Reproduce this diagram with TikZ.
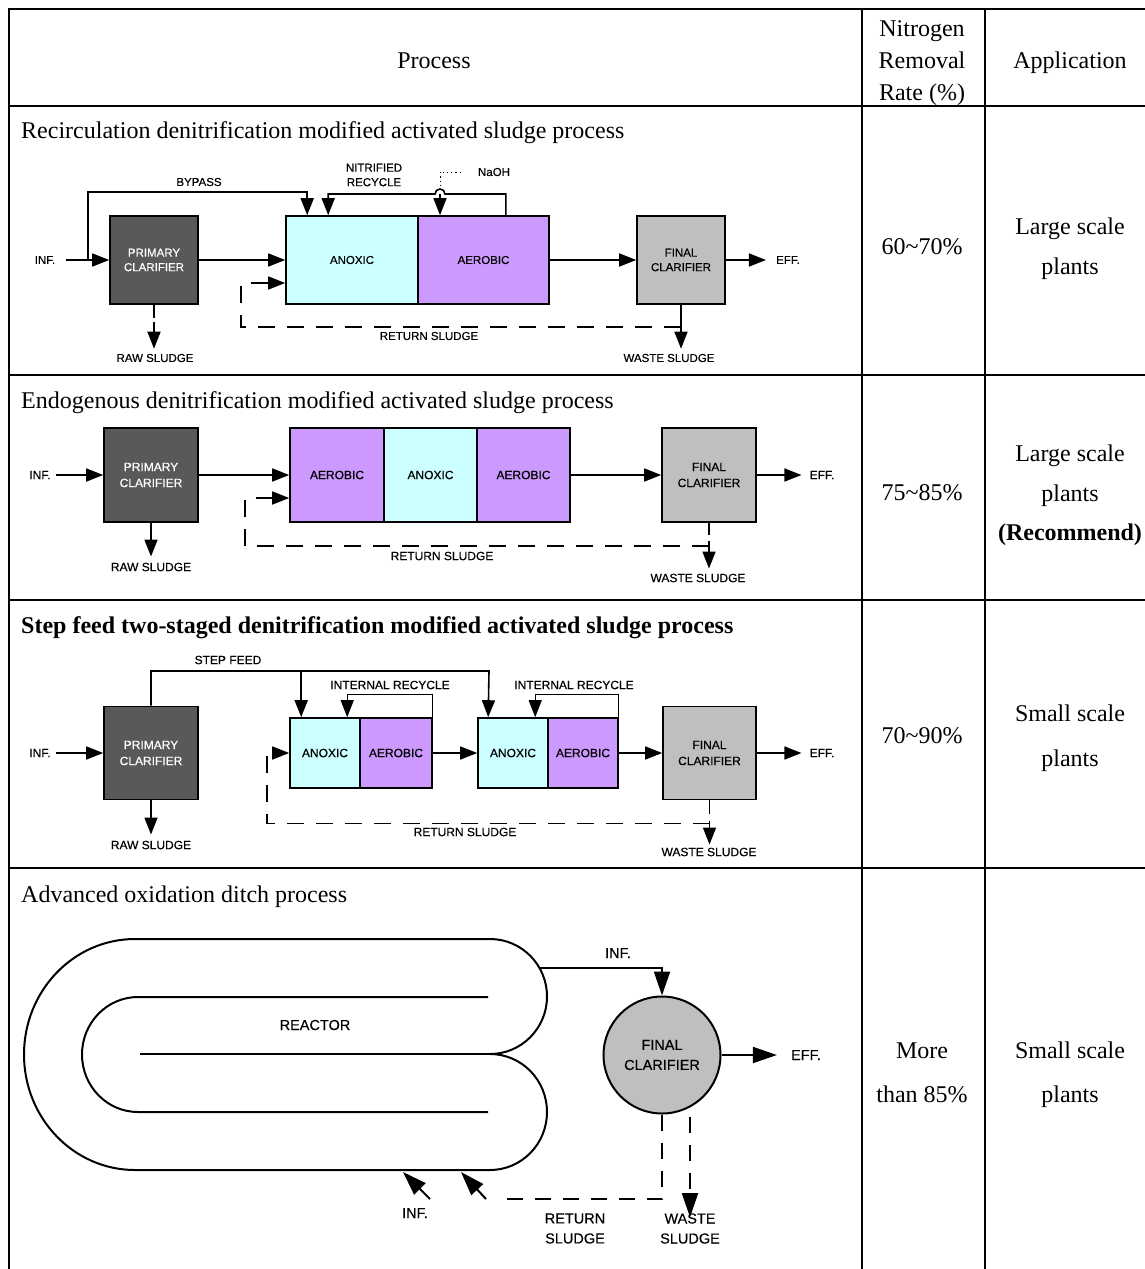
\documentclass[tikz,border=0pt]{standalone}
\usepackage{fontspec}
\setmainfont{Liberation Serif}
\newfontfamily\dgsans[FakeBold=0.35]{Liberation Sans}
\usetikzlibrary{arrows.meta,calc}
\definecolor{primfill}{HTML}{595959}
\definecolor{anoxfill}{HTML}{CCFFFF}
\definecolor{aerofill}{HTML}{CC99FF}
\definecolor{finfill}{HTML}{BFBFBF}
\newcommand\smallsans{\dgsans\fontsize{11.5}{14.5}\selectfont}
\newcommand\midsans{\dgsans\fontsize{12}{16}\selectfont}
\newcommand\bigsans{\dgsans\fontsize{14.5}{20}\selectfont}
\newcommand\cellfont{\fontsize{24}{32}\selectfont}
\begin{document}
\begin{tikzpicture}[x=1pt,y=-1pt,
  tbl/.style={line width=2.5pt, line cap=rect},
  celltxt/.style={inner sep=0pt, font=\cellfont, anchor=base},
  rowhead/.style={inner sep=0pt, font=\cellfont, anchor=base west},
  tank/.style={draw, line width=1.6pt, inner sep=0pt, align=center},
  lbl/.style={inner sep=0pt, align=center},
  flow/.style={line width=1.6pt, -{Triangle[length=17pt,width=13pt]}},
  pipe/.style={line width=1.6pt},
  dflow/.style={line width=1.6pt, dash pattern=on 17pt off 12pt, -{Triangle[length=17pt,width=13pt]}},
  dpipe/.style={line width=1.6pt, dash pattern=on 17pt off 12pt},
  recyc/.style={line width=1pt, -{Triangle[length=17pt,width=13pt]}},
  wall/.style={line width=2pt},
  bigflow/.style={line width=2pt, -{Triangle[length=24pt,width=16pt]}},
  bigdash/.style={line width=2pt, dash pattern=on 16pt off 12pt},
  bigdflow/.style={line width=2pt, dash pattern=on 16pt off 12pt, -{Triangle[length=24pt,width=16pt]}},
]
\useasboundingbox (0,0) rectangle (1145,1269);

% ---------- table grid ----------
\draw[tbl] (9,1269) -- (9,9) -- (1145,9);
\draw[tbl] (9,106) -- (1145,106);
\draw[tbl] (9,375) -- (1145,375);
\draw[tbl] (9,600) -- (1145,600);
\draw[tbl] (9,868) -- (1145,868);
\draw[tbl] (862,9) -- (862,1269);
\draw[tbl] (985,9) -- (985,1269);

% ---------- header ----------
\node[celltxt] (hproc) at (434,68) {Process};
\node[celltxt] (hrate1) at (922,36) {Nitrogen};
\node[celltxt] (hrate2) at (922,68) {Removal};
\node[celltxt] (hrate3) at (922,100) {Rate (\%)};
\node[celltxt] (happ) at (1070,68) {Application};

% ---------- row texts ----------
\node[rowhead] (t1) at (21,138) {Recirculation denitrification modified activated sludge process};
\node[celltxt] (t1r) at (922,254) {60\textasciitilde70\%};
\node[celltxt] (t1a) at (1070,234) {Large scale};
\node[celltxt] (t1b) at (1070,274) {plants};

\node[rowhead] (t2) at (21,408) {Endogenous denitrification modified activated sludge process};
\node[celltxt] (t2r) at (922,500) {75\textasciitilde85\%};
\node[celltxt] (t2a) at (1070,461) {Large scale};
\node[celltxt] (t2b) at (1070,501) {plants};
\node[celltxt] (t2c) at (1070,540) {\textbf{(Recommend)}};

\node[rowhead] (t3) at (21,633) {\textbf{Step feed two-staged denitrification modified activated sludge process}};
\node[celltxt] (t3r) at (922,743) {70\textasciitilde90\%};
\node[celltxt] (t3a) at (1070,721) {Small scale};
\node[celltxt] (t3b) at (1070,766) {plants};

\node[rowhead] (t4) at (21,902) {Advanced oxidation ditch process};
\node[celltxt] (t4r1) at (922,1058) {More};
\node[celltxt] (t4r2) at (922,1102) {than 85\%};
\node[celltxt] (t4a) at (1070,1058) {Small scale};
\node[celltxt] (t4b) at (1070,1102) {plants};

% ---------- recirculation process ----------
\begin{scope}[font=\smallsans]
\node[lbl] (r1inf) at (45,260) {INF.};
\node[tank, fill=primfill, text=white, minimum width=88pt, minimum height=88pt] (r1prim) at (154,260) {PRIMARY\\CLARIFIER};
\node[tank, fill=anoxfill, minimum width=132pt, minimum height=88pt] (r1anox) at (352,260) {ANOXIC};
\node[tank, fill=aerofill, minimum width=131pt, minimum height=88pt] (r1aer) at (483.5,260) {AEROBIC};
\node[tank, fill=finfill, minimum width=88pt, minimum height=88pt] (r1fin) at (681,260) {FINAL\\CLARIFIER};
\node[lbl] (r1eff) at (788,260) {EFF.};
\node[lbl] (r1byp) at (199,182) {BYPASS};
\node[lbl] (r1nit) at (374,175) {NITRIFIED\\RECYCLE};
\node[lbl] (r1naoh) at (494,172) {NaOH};
\node[lbl] (r1ret) at (429,336) {RETURN SLUDGE};
\node[lbl] (r1raw) at (155,358) {RAW SLUDGE};
\node[lbl] (r1waste) at (669,358) {WASTE SLUDGE};
\coordinate (r1split) at (88,260);
\coordinate (r1hop) at (440,194);

\draw[flow] ([xshift=11pt]r1inf.east) -- (r1prim.west);
\draw[flow] (r1split) |- ([xshift=22pt,yshift=23pt]r1anox.north west) -- ([xshift=22pt]r1anox.north west);
\draw[flow] (r1prim.east) -- (r1anox.west);
\draw[flow] ([xshift=-44pt]r1aer.north east) |- ([xshift=5pt]r1hop)
  arc[start angle=0, end angle=180, radius=5pt] -| ([xshift=43pt]r1anox.north west);
\draw[line width=1pt, dash pattern=on 1.2pt off 3pt] ([xshift=-17pt]r1naoh.west) -| ([yshift=5pt]r1hop);
\draw[flow] (r1hop) -- (r1hop |- r1aer.north);
\draw[flow] (r1aer.east) -- (r1fin.west);
\draw[flow] (r1fin.east) -- ([xshift=-10pt]r1eff.west);
\draw[flow] (r1fin.south) -- ([yshift=5pt]r1fin.south |- r1waste.north);
\draw[dflow] ($(r1fin.south)+(0,22)$) -| ([xshift=-44pt,yshift=-23pt]r1anox.west) -- ([yshift=-23pt]r1anox.west);
\draw[dflow, dash pattern=on 13pt off 4pt] (r1prim.south) -- ([yshift=5pt]r1prim.south |- r1raw.north);
\end{scope}

% ---------- endogenous process ----------
\begin{scope}[font=\midsans]
\node[lbl] (r2inf) at (40,475) {INF.};
\node[tank, fill=primfill, text=white, minimum width=94pt, minimum height=94pt] (r2prim) at (151,475) {PRIMARY\\CLARIFIER};
\node[tank, fill=aerofill, minimum width=94pt, minimum height=94pt] (r2aer1) at (337,475) {AEROBIC};
\node[tank, fill=anoxfill, minimum width=93pt, minimum height=94pt] (r2anox) at (430.5,475) {ANOXIC};
\node[tank, fill=aerofill, minimum width=93pt, minimum height=94pt] (r2aer2) at (523.5,475) {AEROBIC};
\node[tank, fill=finfill, minimum width=94pt, minimum height=94pt] (r2fin) at (709,475) {FINAL\\CLARIFIER};
\node[lbl] (r2eff) at (822,475) {EFF.};
\node[lbl] (r2raw) at (151,567) {RAW SLUDGE};
\node[lbl] (r2ret) at (442,556) {RETURN SLUDGE};
\node[lbl] (r2waste) at (698,578) {WASTE SLUDGE};

\draw[flow] ([xshift=5pt]r2inf.east) -- (r2prim.west);
\draw[flow] (r2prim.east) -- (r2aer1.west);
\draw[flow] (r2aer2.east) -- (r2fin.west);
\draw[flow] (r2fin.east) -- ([xshift=-8pt]r2eff.west);
\draw[flow] (r2prim.south) -- ([yshift=6pt]r2prim.south |- r2raw.north);
\draw[dflow, dash pattern=on 12pt off 6pt] (r2fin.south) -- ([yshift=5pt]r2fin.south |- r2waste.north);
\draw[dflow] ($(r2fin.south)+(0,23)$) -| ([xshift=-44pt,yshift=-23pt]r2aer1.west) -- ([yshift=-23pt]r2aer1.west);
\end{scope}

% ---------- step feed process ----------
\begin{scope}[font=\midsans]
\node[lbl] (r3inf) at (40,753) {INF.};
\node[tank, fill=primfill, text=white, minimum width=94pt, minimum height=93pt] (r3prim) at (151,753) {PRIMARY\\CLARIFIER};
\node[tank, fill=anoxfill, minimum width=70pt, minimum height=70pt] (r3anox1) at (325,753) {ANOXIC};
\node[tank, fill=aerofill, minimum width=72pt, minimum height=70pt] (r3aer1) at (396,753) {AEROBIC};
\node[tank, fill=anoxfill, minimum width=70pt, minimum height=70pt] (r3anox2) at (513,753) {ANOXIC};
\node[tank, fill=aerofill, minimum width=70pt, minimum height=70pt] (r3aer2) at (583,753) {AEROBIC};
\node[tank, fill=finfill, minimum width=93pt, minimum height=93pt] (r3fin) at (709.5,753) {FINAL\\CLARIFIER};
\node[lbl] (r3eff) at (822,753) {EFF.};
\node[lbl] (r3step) at (228,660) {STEP FEED};
\node[lbl] (r3ir1) at (390,685) {INTERNAL RECYCLE};
\node[lbl] (r3ir2) at (574,685) {INTERNAL RECYCLE};
\node[lbl] (r3raw) at (151,845) {RAW SLUDGE};
\node[lbl] (r3ret) at (465,832) {RETURN SLUDGE};
\node[lbl] (r3waste) at (709,852) {WASTE SLUDGE};
\coordinate (r3feed) at (489,671);

\draw[flow] ([xshift=5pt]r3inf.east) -- (r3prim.west);
\draw[flow] (r3prim.north) |- (r3feed) -- ([xshift=11pt]r3anox2.north west);
\draw[flow] ([xshift=12pt]r3anox1.north west |- r3feed) -- ([xshift=12pt]r3anox1.north west);
\draw[recyc] (r3aer1.north east) -- ++(0,-23) -| ([xshift=58pt]r3anox1.north west);
\draw[recyc] (r3aer2.north east) -- ++(0,-23) -| ([xshift=58pt]r3anox2.north west);
\draw[flow] (r3aer1.east) -- (r3anox2.west);
\draw[flow] (r3aer2.east) -- (r3fin.west);
\draw[flow] (r3fin.east) -- ([xshift=-8pt]r3eff.west);
\draw[flow] (r3prim.south) -- ([yshift=6pt]r3prim.south |- r3raw.north);
\draw[dflow, dash pattern=on 14pt off 7pt] (r3fin.south) -- ([yshift=3pt]r3fin.south |- r3waste.north);
\draw[dflow] ($(r3fin.south)+(0,23)$) -| ([xshift=-22pt]r3anox1.west) -- (r3anox1.west);
\end{scope}

% ---------- oxidation ditch ----------
\begin{scope}[font=\bigsans]
% outer channel wall with two return bends
\draw[wall] (135,939) -- (490,939)
  arc[start angle=90, end angle=-90, x radius=57pt, y radius=57.5pt]
  arc[start angle=90, end angle=-90, x radius=57pt, y radius=58pt]
  -- (135,1170)
  arc[start angle=270, end angle=90, x radius=111pt, y radius=115.5pt];
% inner wall and centre divider
\draw[wall] (488,997) -- (138,997)
  arc[start angle=90, end angle=270, x radius=56pt, y radius=57.5pt] -- (488,1112);
\draw[wall] (140,1054) -- (490,1054);
\node[lbl] (r4reac) at (315,1025) {REACTOR};
\node[tank, circle, line width=2pt, fill=finfill, minimum size=117pt] (r4fin) at (662,1055) {FINAL\\CLARIFIER};
\node[lbl] (r4inft) at (618,953) {INF.};
\node[lbl] (r4eff) at (806,1055) {EFF.};
\node[lbl] (r4infb) at (415,1213) {INF.};
\node[lbl] (r4ret) at (575,1228.5) {RETURN\\SLUDGE};
\node[lbl] (r4waste) at (690,1228.5) {WASTE\\SLUDGE};
\coordinate (r4out) at (539.5,968);
\coordinate (r4retend) at (495,1199);

\draw[bigflow] (r4out) -| (r4fin.north);
\draw[bigflow] (r4fin.east) -- ([xshift=-14pt]r4eff.west);
\draw[bigdash] (r4fin.south) |- (r4retend);
\draw[bigflow] ([xshift=-9pt]r4retend) -- (461,1172);
\draw[bigflow] (430,1199) -- (403,1172);
\draw[bigdflow] (690,1117) -- ([yshift=-4pt]r4waste.north);
\end{scope}
\end{tikzpicture}
\end{document}
